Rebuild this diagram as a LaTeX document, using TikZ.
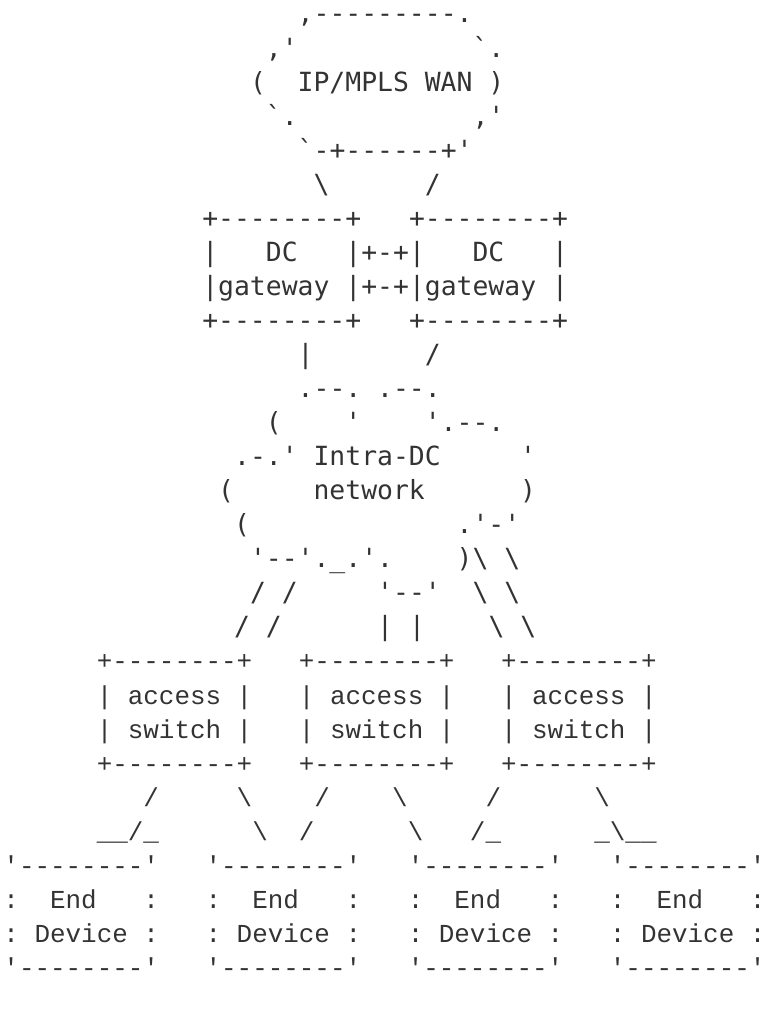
\documentclass[tikz,border=0pt]{standalone}
\usepackage{fontspec}
\newfontfamily\artfont{DejaVu Sans Mono}[Ligatures=TeXOff]
\newfontfamily\boxfont{Liberation Mono}[Ligatures=TeXOff]
\definecolor{ink}{HTML}{333333}
\tikzset{
    uptext/.style={font=\artfont\fontsize{19.8pt}{20pt}\selectfont, text=ink, inner sep=0pt, anchor=base west},
    lowtext/.style={font=\boxfont\fontsize{19.44pt}{20pt}\selectfont, text=ink, inner sep=0pt, anchor=base west}
}
\begin{document}
\begin{tikzpicture}[x=11.875pt, y=-25.5375pt]
        \useasboundingbox (0, 0.3245) rectangle (48, 30.016);
    \begin{scope}[x=11.925pt, xshift=-3.49pt]
        % WAN cloud
        \node[uptext] (wanA) at (19, 1) {,---------.};
        \node[uptext] (wanB) at (17, 2) {,'~~~~~~~~~~~`.};
        \node[uptext] (wanC) at (16, 3) {(~~IP/MPLS~WAN~)};
        \node[uptext] (wanD) at (17, 4) {`.~~~~~~~~~~~,'};
        \node[uptext] (wanE) at (19, 5) {`-+------+'};
        \node[uptext] (upL) at (20, 6) {\textbackslash};
        \node[uptext] (upR) at (27, 6) {/};
        % DC gateways
        \node[uptext] (gwLa) at (13, 7) {+--------+};
        \node[uptext] (gwLb) at (13, 8) {|~~~DC~~~|};
        \node[uptext] (gwLc) at (13, 9) {|gateway~|};
        \node[uptext] (gwLd) at (13, 10) {+--------+};
        \node[uptext] (gwRa) at (26, 7) {+--------+};
        \node[uptext] (gwRb) at (26, 8) {|~~~DC~~~|};
        \node[uptext] (gwRc) at (26, 9) {|gateway~|};
        \node[uptext] (gwRd) at (26, 10) {+--------+};
        \node[uptext] (gwLinkA) at (23, 8) {+-+};
        \node[uptext] (gwLinkB) at (23, 9) {+-+};
        \node[uptext] (downL) at (19, 11) {|};
        \node[uptext] (downR) at (27, 11) {/};
        % Intra-DC network
        \node[uptext] (netA) at (19, 12) {.--.~.--.};
        \node[uptext] (netB) at (17, 13) {(~~~~'~~~~'.--.};
        \node[uptext] (netC) at (15, 14) {.-.'~Intra-DC~~~~~'};
        \node[uptext] (netD) at (14, 15) {(~~~~~network~~~~~~)};
        \node[uptext] (netE) at (15, 16) {(~~~~~~~~~~~~~.'-'};
        \node[uptext] (netF) at (16, 17) {'--'.\_.'.~~~~)};
        \node[uptext] (netG) at (24, 18) {'--'};
        \node[uptext] (legCa) at (30, 17) {\textbackslash~\textbackslash};
        \node[uptext] (legAa) at (16, 18) {/~/};
        \node[uptext] (legCb) at (30, 18) {\textbackslash~\textbackslash};
        \node[uptext] (legAb) at (15, 19) {/~/};
        \node[uptext] (legB) at (24, 19) {|~|};
        \node[uptext] (legCc) at (31, 19) {\textbackslash~\textbackslash};
    \end{scope}
    \begin{scope}[x=11.6625pt, xshift=2.4pt]
        % access switches
        \node[lowtext] (swAa) at (6, 20) {+--------+};
        \node[lowtext] (swAb) at (6, 21) {|~access~|};
        \node[lowtext] (swAc) at (6, 22) {|~switch~|};
        \node[lowtext] (swAd) at (6, 23) {+--------+};
        \node[lowtext] (swBa) at (19, 20) {+--------+};
        \node[lowtext] (swBb) at (19, 21) {|~access~|};
        \node[lowtext] (swBc) at (19, 22) {|~switch~|};
        \node[lowtext] (swBd) at (19, 23) {+--------+};
        \node[lowtext] (swCa) at (32, 20) {+--------+};
        \node[lowtext] (swCb) at (32, 21) {|~access~|};
        \node[lowtext] (swCc) at (32, 22) {|~switch~|};
        \node[lowtext] (swCd) at (32, 23) {+--------+};
        \node[lowtext] (wireA) at (9, 24) {/};
        \node[lowtext] (wireB) at (15, 24) {\textbackslash};
        \node[lowtext] (wireC) at (20, 24) {/};
        \node[lowtext] (wireD) at (25, 24) {\textbackslash};
        \node[lowtext] (wireE) at (31, 24) {/};
        \node[lowtext] (wireF) at (38, 24) {\textbackslash};
        \node[lowtext] (footA) at (6, 25) {\_\_/\_};
        \node[lowtext] (footB) at (16, 25) {\textbackslash};
        \node[lowtext] (footC) at (19, 25) {/};
        \node[lowtext] (footD) at (26, 25) {\textbackslash};
        \node[lowtext] (footE) at (30, 25) {/\_};
        \node[lowtext] (footF) at (38, 25) {\_\textbackslash\_\_};
        % end devices
        \node[lowtext] (devAa) at (0, 26) {'--------'};
        \node[lowtext] (devAb) at (0, 27) {:~~End~~~:};
        \node[lowtext] (devAc) at (0, 28) {:~Device~:};
        \node[lowtext] (devAd) at (0, 29) {'--------'};
        \node[lowtext] (devBa) at (13, 26) {'--------'};
        \node[lowtext] (devBb) at (13, 27) {:~~End~~~:};
        \node[lowtext] (devBc) at (13, 28) {:~Device~:};
        \node[lowtext] (devBd) at (13, 29) {'--------'};
        \node[lowtext] (devCa) at (26, 26) {'--------'};
        \node[lowtext] (devCb) at (26, 27) {:~~End~~~:};
        \node[lowtext] (devCc) at (26, 28) {:~Device~:};
        \node[lowtext] (devCd) at (26, 29) {'--------'};
        \node[lowtext] (devDa) at (39, 26) {'--------'};
        \node[lowtext] (devDb) at (39, 27) {:~~End~~~:};
        \node[lowtext] (devDc) at (39, 28) {:~Device~:};
        \node[lowtext] (devDd) at (39, 29) {'--------'};
    \end{scope}
    \end{tikzpicture}
\end{document}
